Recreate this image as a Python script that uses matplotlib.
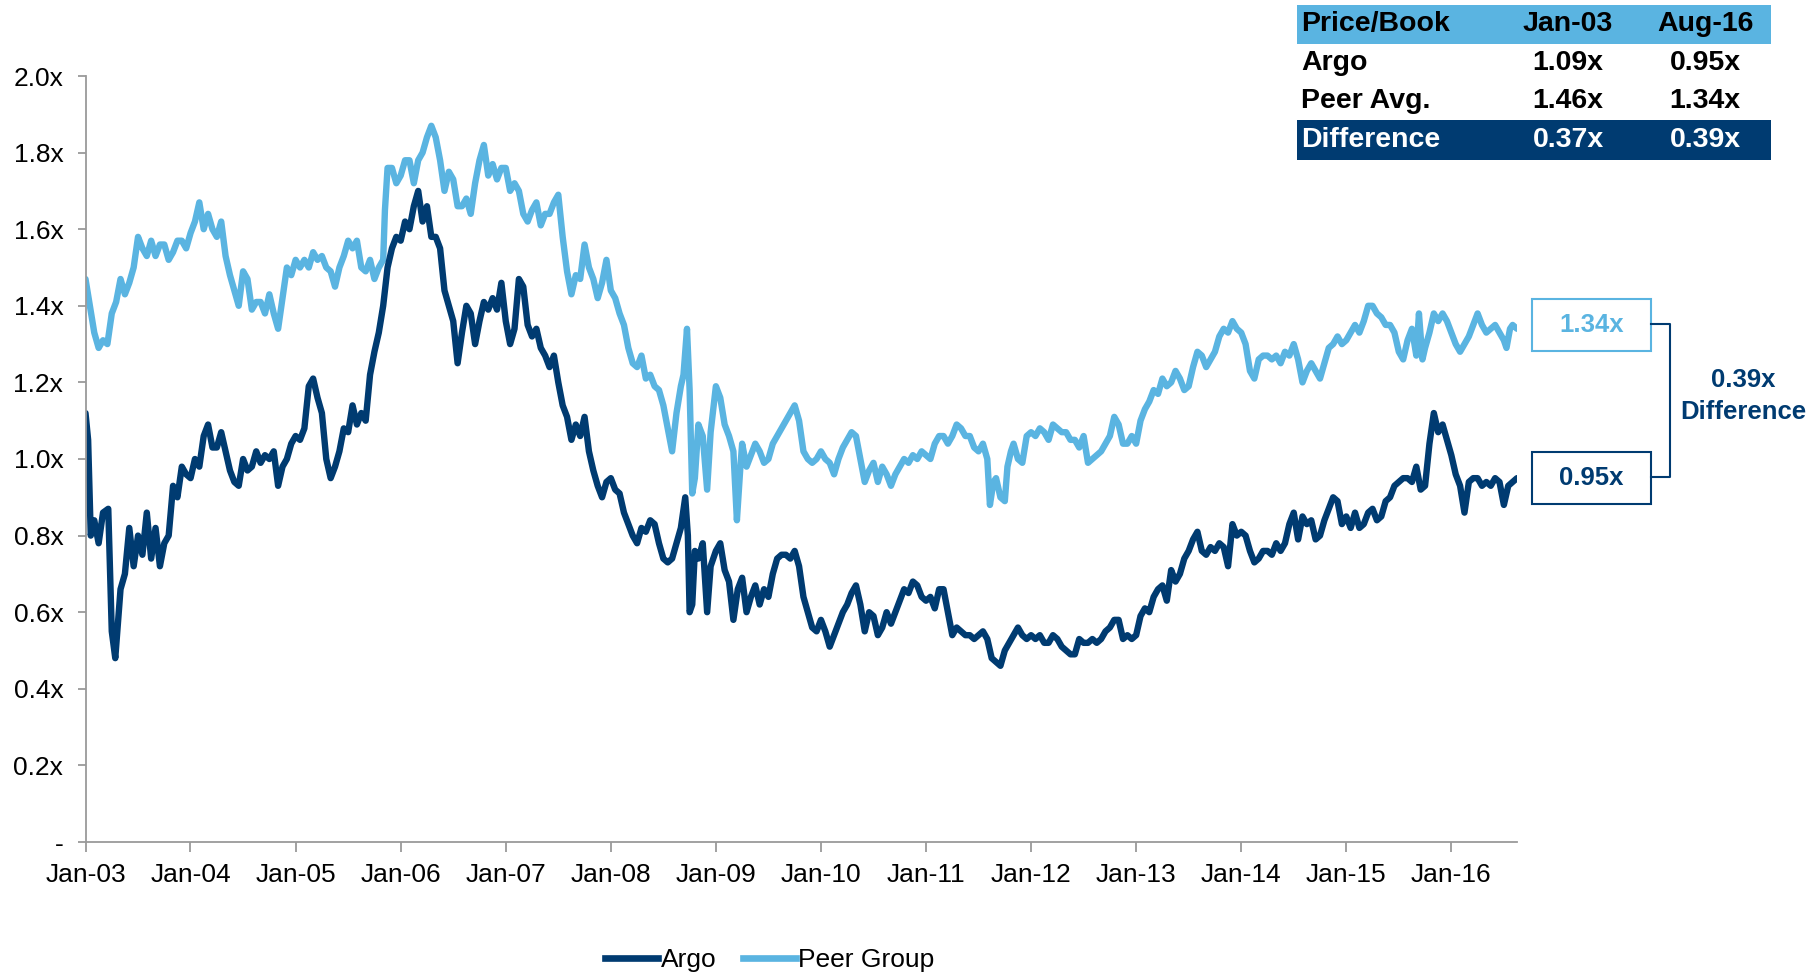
import matplotlib
matplotlib.use("Agg")
import matplotlib.pyplot as plt
import matplotlib.dates as mdates
from matplotlib.patches import Rectangle
from matplotlib.lines import Line2D
import pandas as pd
import numpy as np

plt.rcParams['font.family'] = ['Liberation Sans', 'DejaVu Sans']

# ---------------- data (months since Jan-2003, price/book) ----------------
argo = [(0,1.12),(0.3,1.05),(0.6,0.80),(1,0.84),(1.5,0.78),(2,0.86),(2.6,0.87),(3,0.55),(3.4,0.48),(3.8,0.60),
(4,0.66),(4.5,0.70),(5,0.82),(5.5,0.72),(6,0.80),(6.5,0.75),(7,0.86),(7.5,0.74),(8,0.82),(8.5,0.72),(9,0.78),(9.5,0.80),
(10,0.93),(10.5,0.90),(11,0.98),(11.5,0.96),(12,0.95),(12.5,1.00),(13,0.98),(13.5,1.06),(14,1.09),(14.5,1.03),(15,1.03),
(15.5,1.07),(16,1.02),(16.5,0.97),(17,0.94),(17.5,0.93),(18,1.00),(18.5,0.97),(19,0.98),(19.5,1.02),(20,0.99),(20.5,1.01),
(21,1.00),(21.5,1.02),(22,0.93),(22.5,0.98),(23,1.00),(23.5,1.04),(24,1.06),(24.5,1.05),(25,1.08),(25.5,1.19),(26,1.21),
(26.5,1.16),(27,1.12),(27.5,1.00),(28,0.95),(28.5,0.98),(29,1.02),(29.5,1.08),(30,1.07),(30.5,1.14),(31,1.09),(31.5,1.12),
(32,1.10),(32.5,1.22),(33,1.28),(33.5,1.33),(34,1.40),(34.5,1.50),(35,1.55),(35.5,1.58),(36,1.57),(36.5,1.62),(37,1.60),
(37.5,1.66),(38,1.70),(38.5,1.62),(39,1.66),(39.5,1.58),(40,1.58),(40.5,1.55),(41,1.44),(41.5,1.40),(42,1.36),(42.5,1.25),
(43,1.33),(43.5,1.40),(44,1.38),(44.5,1.30),(45,1.36),(45.5,1.41),(46,1.39),(46.5,1.42),(47,1.39),(47.5,1.46),(48,1.36),
(48.5,1.30),(49,1.34),(49.5,1.47),(50,1.45),(50.5,1.35),(51,1.32),(51.5,1.34),(52,1.29),(52.5,1.27),(53,1.24),(53.5,1.27),
(54,1.20),(54.5,1.14),(55,1.11),(55.5,1.05),(56,1.09),(56.5,1.06),(57,1.11),(57.5,1.02),(58,0.97),(58.5,0.93),(59,0.90),
(59.5,0.94),(60,0.95),(60.5,0.92),(61,0.91),(61.5,0.86),(62,0.83),(62.5,0.80),(63,0.78),(63.5,0.82),(64,0.81),(64.5,0.84),
(65,0.83),(65.5,0.78),(66,0.74),(66.5,0.73),(67,0.74),(67.5,0.78),(68,0.82),(68.5,0.90),(68.8,0.80),(69,0.60),(69.3,0.62),
(69.6,0.76),(70,0.74),(70.5,0.78),(71,0.60),(71.4,0.72),(72,0.76),(72.5,0.78),(73,0.71),(73.5,0.68),(74,0.58),(74.5,0.66),
(75,0.69),(75.5,0.60),(76,0.64),(76.5,0.67),(77,0.62),(77.5,0.66),(78,0.64),(78.5,0.70),(79,0.74),(79.5,0.75),(80,0.75),
(80.5,0.74),(81,0.76),(81.5,0.72),(82,0.64),(82.5,0.60),(83,0.56),(83.5,0.55),(84,0.58),(84.5,0.55),(85,0.51),(85.5,0.54),
(86,0.57),(86.5,0.60),(87,0.62),(87.5,0.65),(88,0.67),(88.5,0.62),(89,0.55),(89.5,0.60),(90,0.59),(90.5,0.54),(91,0.56),
(91.5,0.60),(92,0.57),(92.5,0.60),(93,0.63),(93.5,0.66),(94,0.65),(94.5,0.68),(95,0.67),(95.5,0.64),(96,0.63),(96.5,0.64),
(97,0.61),(97.5,0.66),(98,0.66),(98.5,0.60),(99,0.54),(99.5,0.56),(100,0.55),(100.5,0.54),(101,0.54),(101.5,0.53),
(102,0.54),(102.5,0.55),(103,0.53),(103.5,0.48),(104,0.47),(104.5,0.46),(105,0.50),(105.5,0.52),(106,0.54),(106.5,0.56),
(107,0.54),(107.5,0.53),(108,0.54),(108.5,0.53),(109,0.54),(109.5,0.52),(110,0.52),(110.5,0.54),(111,0.53),(111.5,0.51),
(112,0.50),(112.5,0.49),(113,0.49),(113.5,0.53),(114,0.52),(114.5,0.52),(115,0.53),(115.5,0.52),(116,0.53),(116.5,0.55),
(117,0.56),(117.5,0.58),(118,0.58),(118.5,0.53),(119,0.54),(119.5,0.53),(120,0.54),(120.5,0.59),(121,0.61),(121.5,0.60),
(122,0.64),(122.5,0.66),(123,0.67),(123.5,0.63),(124,0.71),(124.5,0.68),(125,0.70),(125.5,0.74),(126,0.76),(126.5,0.79),
(127,0.81),(127.5,0.76),(128,0.75),(128.5,0.77),(129,0.76),(129.5,0.78),(130,0.77),(130.5,0.72),(131,0.83),(131.5,0.80),
(132,0.81),(132.5,0.80),(133,0.76),(133.5,0.73),(134,0.74),(134.5,0.76),(135,0.76),(135.5,0.75),(136,0.78),(136.5,0.76),
(137,0.78),(137.5,0.83),(138,0.86),(138.5,0.79),(139,0.85),(139.5,0.83),(140,0.84),(140.5,0.79),(141,0.80),(141.5,0.84),
(142,0.87),(142.5,0.90),(143,0.89),(143.5,0.83),(144,0.85),(144.5,0.82),(145,0.86),(145.5,0.82),(146,0.83),(146.5,0.86),
(147,0.87),(147.5,0.84),(148,0.85),(148.5,0.89),(149,0.90),(149.5,0.93),(150,0.94),(150.5,0.95),(151,0.95),(151.5,0.94),
(152,0.98),(152.5,0.92),(153,0.93),(153.5,1.04),(154,1.12),(154.5,1.07),(155,1.09),(155.5,1.05),(156,1.01),(156.5,0.96),
(157,0.93),(157.5,0.86),(158,0.94),(158.5,0.95),(159,0.95),(159.5,0.93),(160,0.94),(160.5,0.93),(161,0.95),(161.5,0.94),
(162,0.88),(162.5,0.93),(163,0.94),(163.5,0.95)]

peer = [(0,1.47),(0.5,1.40),(1,1.33),(1.5,1.29),(2,1.31),(2.5,1.30),(3,1.38),(3.5,1.41),(4,1.47),(4.5,1.43),(5,1.46),
(5.5,1.50),(6,1.58),(6.5,1.55),(7,1.53),(7.5,1.57),(8,1.53),(8.5,1.56),(9,1.56),(9.5,1.52),(10,1.54),(10.5,1.57),(11,1.57),
(11.5,1.55),(12,1.59),(12.5,1.62),(13,1.67),(13.5,1.60),(14,1.64),(14.5,1.60),(15,1.58),(15.5,1.62),(16,1.53),(16.5,1.48),
(17,1.44),(17.5,1.40),(18,1.49),(18.5,1.47),(19,1.39),(19.5,1.41),(20,1.41),(20.5,1.38),(21,1.43),(21.5,1.38),(22,1.34),
(22.5,1.42),(23,1.50),(23.5,1.48),(24,1.52),(24.5,1.50),(25,1.52),(25.5,1.50),(26,1.54),(26.5,1.52),(27,1.53),(27.5,1.50),
(28,1.49),(28.5,1.45),(29,1.50),(29.5,1.53),(30,1.57),(30.5,1.55),(31,1.57),(31.5,1.50),(32,1.49),(32.5,1.52),(33,1.47),
(33.5,1.50),(34,1.52),(34.2,1.65),(34.5,1.76),(35,1.76),(35.5,1.72),(36,1.74),(36.5,1.78),(37,1.78),(37.5,1.72),(38,1.78),
(38.5,1.80),(39,1.84),(39.5,1.87),(40,1.84),(40.5,1.78),(41,1.70),(41.5,1.75),(42,1.73),(42.5,1.66),(43,1.66),(43.5,1.68),
(44,1.64),(44.5,1.72),(45,1.78),(45.5,1.82),(46,1.74),(46.5,1.77),(47,1.73),(47.5,1.76),(48,1.76),(48.5,1.70),(49,1.72),
(49.5,1.70),(50,1.64),(50.5,1.62),(51,1.65),(51.5,1.67),(52,1.61),(52.5,1.64),(53,1.64),(53.5,1.67),(54,1.69),(54.5,1.58),
(55,1.49),(55.5,1.43),(56,1.48),(56.5,1.47),(57,1.56),(57.5,1.50),(58,1.47),(58.5,1.42),(59,1.46),(59.5,1.52),(60,1.44),
(60.5,1.42),(61,1.38),(61.5,1.35),(62,1.29),(62.5,1.25),(63,1.24),(63.5,1.27),(64,1.21),(64.5,1.22),(65,1.19),(65.5,1.18),
(66,1.14),(66.5,1.08),(67,1.02),(67.5,1.12),(68,1.19),(68.3,1.22),(68.7,1.34),(69,1.18),(69.3,0.91),(69.6,0.95),(70,1.09),
(70.5,1.06),(71,0.92),(71.4,1.07),(72,1.19),(72.5,1.16),(73,1.09),(73.5,1.06),(74,1.02),(74.4,0.84),(74.8,0.98),(75,1.04),
(75.5,0.98),(76,1.01),(76.5,1.04),(77,1.02),(77.5,0.99),(78,1.00),(78.5,1.04),(79,1.06),(79.5,1.08),(80,1.10),(80.5,1.12),
(81,1.14),(81.5,1.10),(82,1.02),(82.5,1.00),(83,0.99),(83.5,1.00),(84,1.02),(84.5,1.00),(85,0.99),(85.5,0.96),(86,1.00),
(86.5,1.03),(87,1.05),(87.5,1.07),(88,1.06),(88.5,1.00),(89,0.94),(89.5,0.97),(90,0.99),(90.5,0.94),(91,0.98),(91.5,0.96),
(92,0.93),(92.5,0.96),(93,0.98),(93.5,1.00),(94,0.99),(94.5,1.01),(95,1.00),(95.5,1.02),(96,1.01),(96.5,1.00),(97,1.04),
(97.5,1.06),(98,1.06),(98.5,1.04),(99,1.06),(99.5,1.09),(100,1.08),(100.5,1.06),(101,1.06),(101.5,1.03),(102,1.02),
(102.5,1.04),(103,1.00),(103.3,0.88),(103.7,0.94),(104,0.95),(104.5,0.90),(105,0.89),(105.3,0.98),(105.7,1.02),(106,1.04),
(106.5,1.00),(107,0.99),(107.5,1.06),(108,1.07),(108.5,1.06),(109,1.08),(109.5,1.07),(110,1.05),(110.5,1.09),(111,1.08),
(111.5,1.07),(112,1.07),(112.5,1.05),(113,1.05),(113.5,1.03),(114,1.06),(114.5,0.99),(115,1.00),(115.5,1.01),(116,1.02),
(116.5,1.04),(117,1.06),(117.5,1.11),(118,1.09),(118.5,1.04),(119,1.04),(119.5,1.06),(120,1.04),(120.5,1.10),(121,1.13),
(121.5,1.15),(122,1.18),(122.5,1.17),(123,1.21),(123.5,1.19),(124,1.20),(124.5,1.23),(125,1.21),(125.5,1.18),(126,1.19),
(126.5,1.24),(127,1.28),(127.5,1.27),(128,1.24),(128.5,1.26),(129,1.28),(129.5,1.32),(130,1.34),(130.5,1.33),(131,1.36),
(131.5,1.34),(132,1.33),(132.5,1.30),(133,1.23),(133.5,1.21),(134,1.26),(134.5,1.27),(135,1.27),(135.5,1.26),(136,1.27),
(136.5,1.25),(137,1.28),(137.5,1.27),(138,1.30),(138.5,1.26),(139,1.20),(139.5,1.23),(140,1.25),(140.5,1.23),(141,1.21),
(141.5,1.25),(142,1.29),(142.5,1.30),(143,1.32),(143.5,1.30),(144,1.31),(144.5,1.33),(145,1.35),(145.5,1.33),(146,1.36),
(146.5,1.40),(147,1.40),(147.5,1.38),(148,1.37),(148.5,1.35),(149,1.35),(149.5,1.33),(150,1.28),(150.5,1.26),(151,1.31),
(151.5,1.34),(152,1.27),(152.3,1.38),(152.7,1.26),(153,1.29),(153.5,1.33),(154,1.38),(154.5,1.36),(155,1.38),(155.5,1.36),
(156,1.33),(156.5,1.30),(157,1.28),(157.5,1.30),(158,1.32),(158.5,1.35),(159,1.38),(159.5,1.35),(160,1.33),(160.5,1.34),
(161,1.35),(161.5,1.33),(162,1.31),(162.3,1.29),(162.7,1.34),(163,1.35),(163.5,1.34)]

series_names = ["Argo", "Peer Group"]
year_ticks = list(range(2003, 2017))
y_ticks = [0, 0.2, 0.4, 0.6, 0.8, 1.0, 1.2, 1.4, 1.6, 1.8, 2.0]

table_header = ["Price/Book", "Jan-03", "Aug-16"]
table_rows = [["Argo", "1.09x", "0.95x"],
              ["Peer Avg.", "1.46x", "1.34x"],
              ["Difference", "0.37x", "0.39x"]]
last_argo, last_peer, last_diff = "0.95x", "1.34x", "0.39x"

NAVY = "#003B71"
LIGHT = "#5AB4E1"

base = pd.Timestamp("2003-01-01")
def to_dates(months):
    return [base + pd.Timedelta(days=m * 365.25 / 12) for m in months]

argo_x = to_dates([p[0] for p in argo]); argo_y = [p[1] for p in argo]
peer_x = to_dates([p[0] for p in peer]); peer_y = [p[1] for p in peer]

W, H = 1812, 975
fig = plt.figure(figsize=(W / 100, H / 100), dpi=100)
ax = fig.add_axes([85.5 / W, 1 - 842 / H, (1517 - 85.5) / W, (842 - 76) / H])

LW = 4.6
ax.plot(peer_x, peer_y, color=LIGHT, lw=LW, solid_joinstyle='round', solid_capstyle='round', label=series_names[1])
ax.plot(argo_x, argo_y, color=NAVY, lw=LW, solid_joinstyle='round', solid_capstyle='round', label=series_names[0])

ax.set_ylim(0, 2.0)
ax.set_xlim(base, to_dates([163.5])[0])
ax.set_yticks(y_ticks)
ax.set_yticklabels(["-" if v == 0 else f"{v:.1f}x" for v in y_ticks])
ax.set_xticks([pd.Timestamp(f"{y}-01-01") for y in year_ticks])
ax.xaxis.set_major_formatter(mdates.DateFormatter("%b-%y"))

for s in ["top", "right"]:
    ax.spines[s].set_visible(False)
for s in ["left", "bottom"]:
    ax.spines[s].set_color("#9A9A9A")
    ax.spines[s].set_linewidth(1.3)
ax.tick_params(axis="both", colors="#9A9A9A", width=1.3, labelcolor="black", labelsize=19)
ax.tick_params(axis="y", length=6, pad=10)
ax.tick_params(axis="x", length=7, pad=8)

# legend
handles = [Line2D([], [], color=NAVY, lw=4.8), Line2D([], [], color=LIGHT, lw=4.8)]
fig.legend(handles, series_names, loc="center", bbox_to_anchor=(770 / W, 1 - 960 / H), ncol=2,
           frameon=False, fontsize=19, handlelength=2.0, handletextpad=0.1, columnspacing=1.0)

# table
def fx(x): return x / W
def fy(y): return 1 - y / H
tx0, tx1 = 1297, 1771
row_edges = [4.6, 43.5, 82, 120.5, 159.5]
col_x = [1301, 1568, 1705]
fig.add_artist(Rectangle((fx(tx0), fy(row_edges[1])), fx(tx1 - tx0), (row_edges[1] - row_edges[0]) / H,
                         transform=fig.transFigure, facecolor=LIGHT, edgecolor="none"))
fig.add_artist(Rectangle((fx(tx0), fy(row_edges[4])), fx(tx1 - tx0), (row_edges[4] - row_edges[3]) / H,
                         transform=fig.transFigure, facecolor=NAVY, edgecolor="none"))
all_rows = [table_header] + table_rows
for i, row in enumerate(all_rows):
    yc = (row_edges[i] + row_edges[i + 1]) / 2
    col = "white" if i == 3 else "black"
    for j, txt in enumerate(row):
        fig.text(fx(col_x[j]), fy(yc), txt, ha="left" if j == 0 else "center", va="center",
                 fontsize=20.5, fontweight="bold", color=col)

# end-value boxes
bx0, bx1 = 1532, 1651
for (yc, txt, c) in [(325, last_peer, LIGHT), (478, last_argo, NAVY)]:
    fig.add_artist(Rectangle((fx(bx0), fy(yc + 26)), fx(bx1 - bx0), 52 / H, transform=fig.transFigure,
                             facecolor="white", edgecolor=c, lw=1.5))
    fig.text(fx((bx0 + bx1) / 2), fy(yc), txt, ha="center", va="center", fontsize=18.5,
             fontweight="bold", color=c)

# bracket
fig.add_artist(Line2D([fx(1651), fx(1670), fx(1670), fx(1651)], [fy(324), fy(324), fy(477), fy(477)],
                      transform=fig.transFigure, color=NAVY, lw=1.5))
fig.text(fx(1743), fy(380), last_diff, ha="center", va="center", fontsize=18.5, fontweight="bold", color=NAVY)
fig.text(fx(1743), fy(412), "Difference", ha="center", va="center", fontsize=18.5, fontweight="bold", color=NAVY)

fig.savefig("out.png", dpi=100)
